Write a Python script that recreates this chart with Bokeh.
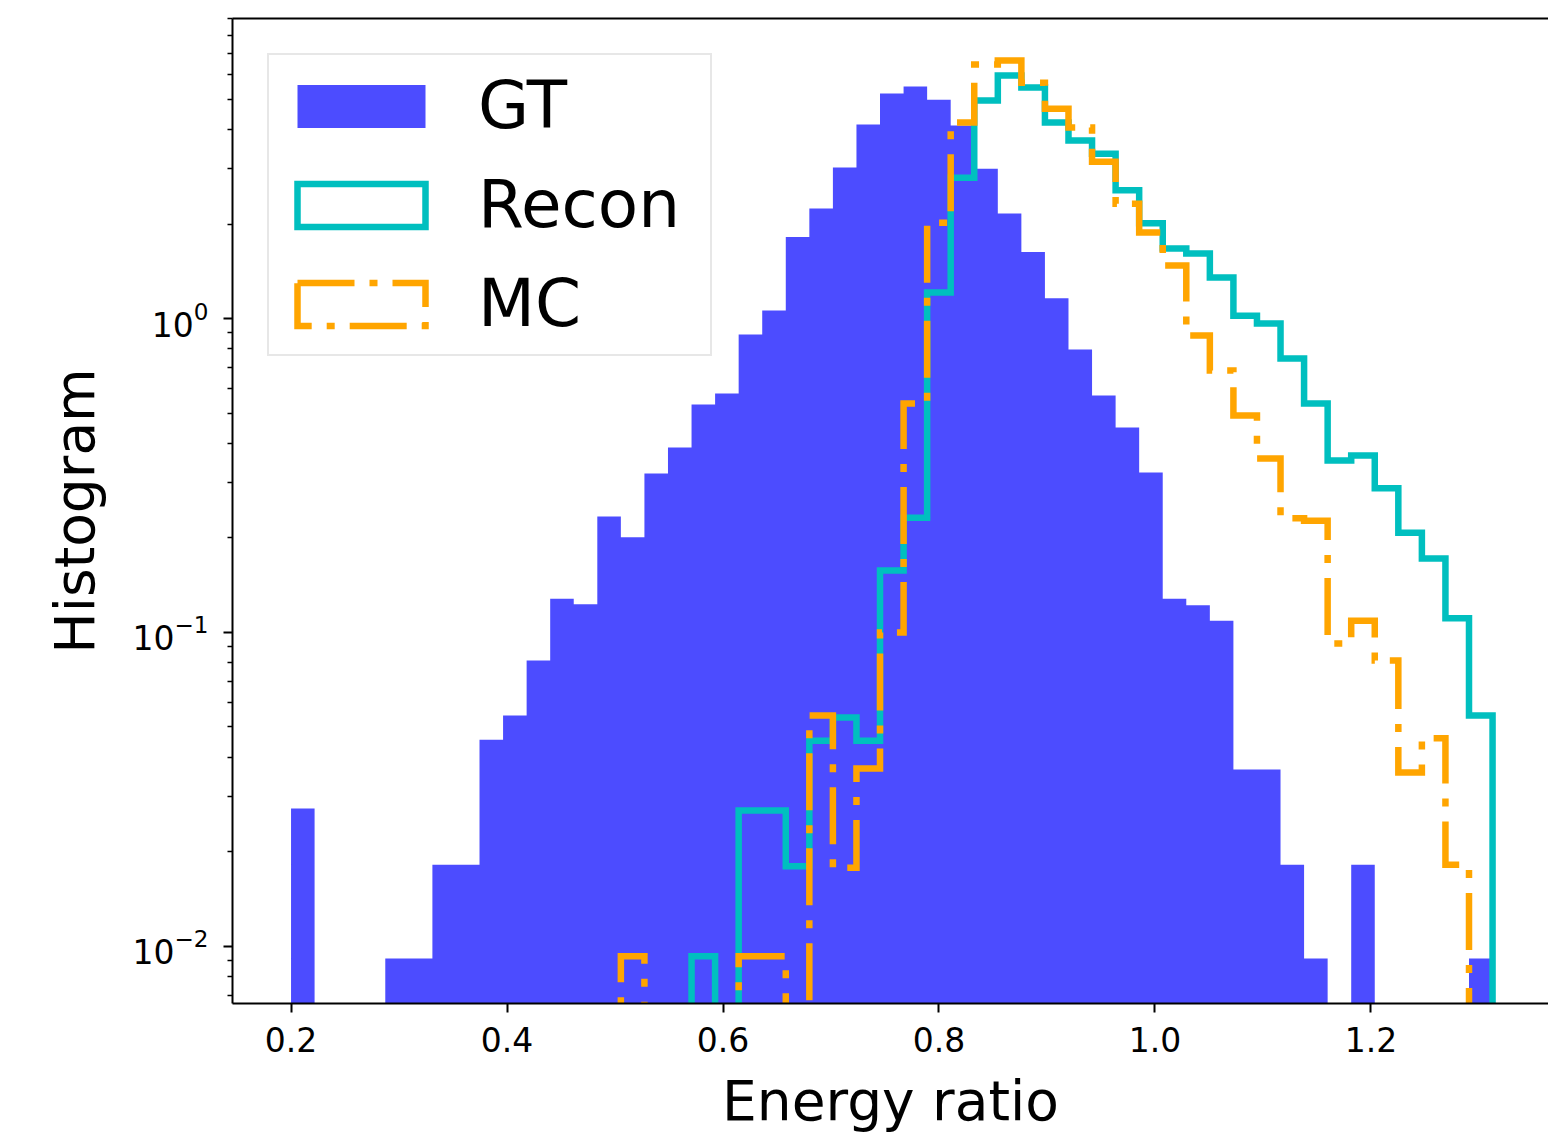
import numpy as np
from bokeh.plotting import figure
from bokeh.models import (Range1d, FixedTicker, PrintfTickFormatter, LinearAxis, Legend,
                          LegendItem, ColumnDataSource, CDSView, IndexFilter)
from bokeh.embed import file_html
from bokeh.resources import INLINE

# ---------------- data (density histograms, shared bins) ----------------
BIN_START = 0.2
BIN_END = 1.3126
N_BINS = 51

gt_density = [0.0275, 0, 0, 0, 0.00916, 0.00916, 0.0182, 0.0182, 0.0455, 0.0544,
              0.0814, 0.128, 0.123, 0.234, 0.201, 0.321, 0.388, 0.532, 0.577, 0.889,
              1.06, 1.82, 2.24, 3.03, 4.15, 5.21, 5.48, 4.98, 4.12, 3.00,
              2.16, 1.63, 1.16, 0.797, 0.569, 0.450, 0.323, 0.128, 0.122, 0.109,
              0.0366, 0.0366, 0.0182, 0.00916, 0, 0.0182, 0, 0, 0, 0,
              0.00916]

recon_density = [0, 0, 0, 0, 0, 0, 0, 0, 0, 0,
                 0, 0, 0, 0, 0, 0, 0, 0.0093, 0, 0.0271,
                 0.0271, 0.0180, 0.0452, 0.0536, 0.0452, 0.1575, 0.232, 1.21, 2.81, 4.95,
                 5.95, 5.44, 4.21, 3.69, 3.35, 2.56, 2.01, 1.67, 1.61, 1.35,
                 1.02, 0.964, 0.746, 0.536, 0.353, 0.366, 0.288, 0.208, 0.172, 0.111,
                 0.0544]

mc_density = [0, 0, 0, 0, 0, 0, 0, 0, 0, 0,
              0, 0, 0, 0, 0.0093, 0, 0, 0, 0, 0.0093,
              0.0093, 0, 0.0544, 0.0178, 0.0369, 0.100, 0.536, 2.02, 4.21, 6.44,
              6.63, 5.64, 4.66, 4.06, 3.16, 2.32, 1.88, 1.475, 0.883, 0.683,
              0.491, 0.358, 0.231, 0.227, 0.0923, 0.109, 0.0814, 0.0358, 0.046, 0.0182,
              0]

series_labels = ["GT", "Recon", "MC"]
x_ticks = [0.2, 0.4, 0.6, 0.8, 1.0, 1.2]
y_ticks = [0.01, 0.1, 1.0]

# ---------------- axes limits ----------------
X_START, X_END = 0.1458, 1.3644
Y_START, Y_END = 0.00658, 9.03
FLOOR = Y_START / 10.0

edges = np.linspace(BIN_START, BIN_END, N_BINS + 1)


def step_outline(vals):
    v = np.asarray(vals, dtype=float)
    v = np.where(v > 0, v, FLOOR)
    xs = np.repeat(edges, 2)
    ys = np.concatenate([[FLOOR], np.repeat(v, 2), [FLOOR]])
    return xs, ys


FONT = "DejaVu Sans"

p = figure(width=1548, height=1135, y_axis_type="log",
           x_range=Range1d(X_START, X_END), y_range=Range1d(Y_START, Y_END),
           output_backend="svg", toolbar_location=None,
           min_border_left=232, min_border_right=0, min_border_top=18, min_border_bottom=132)
p.outline_line_color = None
p.grid.visible = False
p.background_fill_color = "white"
p.border_fill_color = "white"

xa = p.below[0]
ya = p.left[0]

# GT: filled histogram
gx, gy = step_outline(gt_density)
gt_r = p.patch(gx, gy, fill_color="blue", fill_alpha=0.7, line_color=None)

# Recon: step outline
rx, ry = step_outline(recon_density)
recon_r = p.line(rx, ry, line_color="#00bfbf", line_width=6.5, line_join="miter")

# MC: dash-dot step outline
mx, my = step_outline(mc_density)
mc_r = p.line(mx, my, line_color="orange", line_width=6.5, line_join="miter",
              line_dash="57 15 8 15")


# legend proxies: same bins, only the first (empty, off-frame) bin is kept in view
def proxy(vals, **kw):
    v = np.asarray(vals, dtype=float)
    src = ColumnDataSource(dict(left=edges[:-1], right=edges[1:],
                                top=np.where(v > 0, v, FLOOR),
                                bottom=np.full(len(v), FLOOR)))
    return p.quad(left="left", right="right", top="top", bottom="bottom", source=src,
                  view=CDSView(filter=IndexFilter(indices=[0])), fill_color=None, **kw)


recon_proxy = proxy(recon_density, line_color="#00bfbf", line_width=6.5, line_join="miter")
mc_proxy = proxy(mc_density, line_color="orange", line_width=6.5, line_join="miter",
                 line_dash="57 15 8 15")

legend = Legend(items=[LegendItem(label=series_labels[0], renderers=[gt_r]),
                       LegendItem(label=series_labels[1], renderers=[recon_proxy]),
                       LegendItem(label=series_labels[2], renderers=[mc_proxy])],
                location="top_left", margin=35, padding=12, spacing=22,
                glyph_width=160, glyph_height=54, label_standoff=37, label_width=220,
                label_text_font=FONT, label_text_font_size="66px", label_text_color="black",
                border_line_color="#d0d0d0", border_line_width=2,
                background_fill_color="white", background_fill_alpha=0.8)
p.add_layout(legend)

# top spine
top_axis = LinearAxis(ticker=FixedTicker(ticks=[]), major_label_text_font_size="0px",
                      axis_line_width=2, axis_line_color="black",
                      major_tick_line_color=None, minor_tick_line_color=None)
p.add_layout(top_axis, "above")

for ax in [xa, ya]:
    ax.axis_line_width = 2
    ax.axis_line_color = "black"
    ax.major_tick_line_width = 2
    ax.major_tick_line_color = "black"
    ax.major_tick_out = 9
    ax.major_tick_in = 0
    ax.major_label_text_font = FONT
    ax.major_label_text_font_size = "33px"
    ax.major_label_text_color = "black"
    ax.axis_label_text_font = FONT
    ax.axis_label_text_font_size = "55px"
    ax.axis_label_text_font_style = "normal"
    ax.axis_label_text_color = "black"

# x axis
xa.ticker = FixedTicker(ticks=x_ticks)
xa.formatter = PrintfTickFormatter(format="%.1f")
xa.axis_label = "Energy ratio"
xa.minor_tick_line_color = None
xa.major_label_standoff = 14
xa.axis_label_standoff = 14

# y axis
minor = [m * 10.0 ** e for e in range(-3, 1) for m in range(2, 10)]
ya.ticker = FixedTicker(ticks=y_ticks, minor_ticks=minor)
ya.axis_label = "Histogram"
ya.minor_tick_out = 5
ya.minor_tick_in = 0
ya.minor_tick_line_width = 1.5
ya.minor_tick_line_color = "black"
ya.major_label_standoff = 15
ya.axis_label_standoff = 22

open("out.html", "w").write(file_html(p, INLINE))
